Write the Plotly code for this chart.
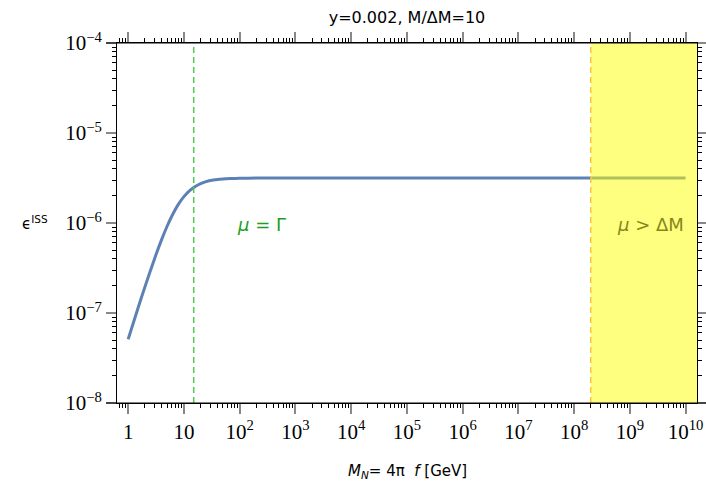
import plotly.graph_objects as go

# ---- data ----
M_N = [1, 1.5, 2, 3, 4, 5, 6, 8, 10, 13, 16, 20, 25, 30, 40, 50, 70, 100, 200, 500,
       1e3, 1e4, 1e5, 1e6, 1e7, 1e8, 1e9, 1e10]
eps_ISS = [5.1e-8, 1.13e-7, 1.95e-7, 4.07e-7, 6.58e-7, 9.2e-7, 1.175e-6, 1.62e-6,
           1.965e-6, 2.32e-6, 2.55e-6, 2.74e-6, 2.88e-6, 2.96e-6, 3.04e-6, 3.085e-6,
           3.12e-6, 3.14e-6, 3.155e-6, 3.16e-6, 3.16e-6, 3.16e-6, 3.16e-6, 3.16e-6,
           3.16e-6, 3.16e-6, 3.16e-6, 3.16e-6]
mu_eq_Gamma = 15.0        # green dashed line
mu_gt_dM = 2.0e8          # start of yellow region

x_tickvals = [10 ** n for n in range(0, 11)]
x_ticktext = ["1", "10"] + ["10<sup>%d</sup>" % n for n in range(2, 11)]
y_tickvals = [10.0 ** n for n in range(-8, -3)]
y_ticktext = ["10<sup>\u2212%d</sup>" % -n for n in range(-8, -3)]

x_minor = [k * 10.0 ** n for n in range(-1, 11) for k in range(2, 10)]
y_minor = [k * 10.0 ** n for n in range(-9, -4) for k in range(2, 10)]

XR = [-0.2, 10.205]
YR = [-8, -4]

W, H = 706, 483
L, R, T, B = 117, 706 - 697, 43, 483 - 403
PW = W - L - R
PH = H - T - B

fig = go.Figure()
fig.add_trace(go.Scatter(x=M_N, y=eps_ISS, mode="lines",
                         line=dict(color="#5E81B5", width=3, shape="spline", smoothing=0.6),
                         hoverinfo="skip", showlegend=False))

tickfont = dict(family="Liberation Serif", size=21, color="black")
axis_common = dict(type="log", showgrid=False, zeroline=False, showline=True,
                   linecolor="black", linewidth=1, mirror="allticks",
                   ticks="outside", ticklen=10, tickcolor="#888888", tickwidth=1.5,
                   tickfont=tickfont, automargin=False)

fig.update_xaxes(range=XR, tickmode="array", tickvals=x_tickvals, ticktext=x_ticktext,
                 minor=dict(tickmode="array", tickvals=x_minor, ticks="outside",
                            ticklen=4, tickcolor="black", tickwidth=1, showgrid=False),
                 **axis_common)
fig.update_yaxes(range=YR, tickmode="array", tickvals=y_tickvals, ticktext=y_ticktext,
                 minor=dict(tickmode="array", tickvals=y_minor, ticks="outside",
                            ticklen=4, tickcolor="black", tickwidth=1, showgrid=False),
                 **axis_common)

shapes = [
    dict(type="line", xref="x", yref="paper", x0=mu_eq_Gamma, x1=mu_eq_Gamma, y0=0, y1=1,
         line=dict(color="#4CCB4C", width=1.5, dash="6px,4px"), layer="above"),
    dict(type="line", xref="x", yref="paper", x0=mu_gt_dM, x1=mu_gt_dM, y0=0, y1=1,
         line=dict(color="#FFB040", width=1.5, dash="6px,4px"), layer="above"),
    dict(type="rect", xref="x", yref="paper", x0=mu_gt_dM, x1=10 ** 10.4, y0=0, y1=1,
         fillcolor="rgba(255,255,0,0.5)", line=dict(width=0), layer="above"),
    dict(type="line", xref="paper", yref="paper", x0=-11 / PW, x1=1, y0=1, y1=1,
         line=dict(color="black", width=1)),
    dict(type="line", xref="paper", yref="paper", x0=-11 / PW, x1=1 + 9 / PW, y0=0, y1=0,
         line=dict(color="black", width=1)),
]

annotations = [
    dict(text="<i>\u03bc</i> = \u0393", x=2.4, y=-6.02, xref="x", yref="y",
         xanchor="center", yanchor="middle", showarrow=False,
         font=dict(family="DejaVu Sans", size=18, color="#1E9E1E")),
    dict(text="<i>\u03bc</i> &gt; \u0394M", x=10.01, xref="x", y=-6.02, yref="y",
         xanchor="right", yanchor="middle", showarrow=False,
         font=dict(family="DejaVu Sans", size=18, color="#86861A")),
    dict(text="\u03f5<sup>ISS</sup>", x=(35 - 117) / PW, xref="paper", y=-6.0, yref="y",
         xanchor="center", yanchor="middle", showarrow=False,
         font=dict(family="DejaVu Sans", size=15, color="black")),
    dict(text="<i>M<sub>N</sub></i>= 4\u03c0  <i>f</i> [GeV]", x=0.5, xref="paper",
         y=-(471 - 403) / PH, yref="paper", yanchor="middle", showarrow=False,
         font=dict(family="DejaVu Sans", size=15, color="black")),
]

fig.update_layout(
    width=W, height=H, autosize=False,
    margin=dict(l=L, r=R, t=T, b=B, pad=0, autoexpand=False),
    paper_bgcolor="white", plot_bgcolor="white",
    title=dict(text="y=0.002, M/\u0394M=10", x=(L + PW / 2) / W, xanchor="center",
               y=1 - 17 / H, yanchor="middle",
               font=dict(family="DejaVu Sans", size=16, color="black")),
    shapes=shapes, annotations=annotations, showlegend=False,
)

fig.write_html("out.html",
               config={"responsive": False, "displayModeBar": False},
               post_script="document.body.style.margin='0';document.body.style.overflow='hidden';")
